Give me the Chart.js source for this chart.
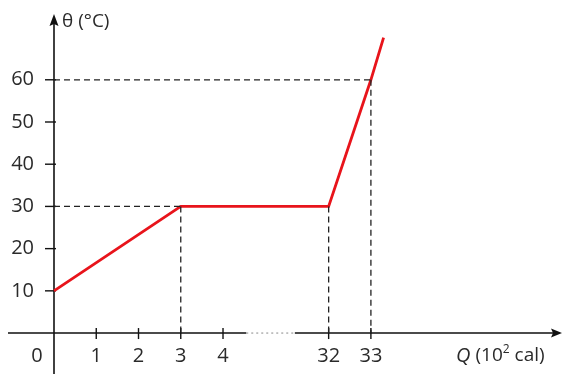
<!DOCTYPE html>
<html>
<head>
<meta charset="utf-8">
<script src="https://cdn.jsdelivr.net/npm/chart.js@4/dist/chart.umd.min.js"></script>
<style>
  html, body { margin: 0; padding: 0; background: #fff; }
  canvas { display: block; }
</style>
</head>
<body>
<canvas id="myChart" width="564" height="374"></canvas>
<script>
// heating curve: heat Q (10^2 cal) vs temperature θ (°C)
const heatQ = [0, 3, 32, 33, 33.3];
const temperature = [10, 30, 30, 60, 70];

const xTickLabels = [0, 1, 2, 3, 4, 32, 33];
const yTickLabels = [10, 20, 30, 40, 50, 60];

// dashed reading lines [Q, θ]
const guideV = [[3, 30], [32, 30], [33, 60]];
const guideH = [[3, 30], [33, 60]];

// the Q axis is broken between 4 and 32
function axisPos(q) {
  return q > 4 ? q - 25.5 : q;
}

const curve = heatQ.map((q, i) => ({ x: axisPos(q), y: temperature[i] }));

const guideSets = [];
guideV.forEach(([q, t]) => {
  guideSets.push([{ x: axisPos(q), y: t }, { x: axisPos(q), y: 0 }]);
});
guideH.forEach(([q, t]) => {
  guideSets.push([{ x: 0, y: t }, { x: axisPos(q), y: t }]);
});

const datasets = guideSets.map((pts) => ({
  data: pts,
  showLine: true,
  borderColor: "#222",
  borderWidth: 1.3,
  borderDash: [6, 4],
  pointRadius: 0,
}));

datasets.push({
  label: "θ",
  data: curve,
  showLine: true,
  borderColor: "#e8141b",
  borderWidth: 2.8,
  pointRadius: 0,
});

const axesPlugin = {
  id: "axesPlugin",
  beforeDatasetsDraw(chart) {
    const ctx = chart.ctx;
    const x = chart.scales.x;
    const y = chart.scales.y;
    const x0 = x.getPixelForValue(0);
    const y0 = y.getPixelForValue(0);

    ctx.save();
    ctx.strokeStyle = "#111";
    ctx.fillStyle = "#111";
    ctx.lineWidth = 1.6;

    // x axis (solid, dotted gap, solid)
    const gapA = x.getPixelForValue(4.55);
    const gapB = x.getPixelForValue(5.7);
    ctx.beginPath();
    ctx.moveTo(8, y0);
    ctx.lineTo(gapA, y0);
    ctx.moveTo(gapB, y0);
    ctx.lineTo(553, y0);
    ctx.stroke();
    ctx.save();
    ctx.lineWidth = 1;
    ctx.strokeStyle = "#888";
    ctx.setLineDash([2, 3]);
    ctx.beginPath();
    ctx.moveTo(gapA, y0);
    ctx.lineTo(gapB, y0);
    ctx.stroke();
    ctx.restore();
    ctx.beginPath();
    ctx.moveTo(562, y0);
    ctx.lineTo(551, y0 - 4.5);
    ctx.lineTo(553, y0);
    ctx.lineTo(551, y0 + 4.5);
    ctx.closePath();
    ctx.fill();

    // y axis
    ctx.beginPath();
    ctx.moveTo(x0, 374);
    ctx.lineTo(x0, 24);
    ctx.stroke();
    ctx.beginPath();
    ctx.moveTo(x0, 14);
    ctx.lineTo(x0 - 4.5, 26);
    ctx.lineTo(x0, 24);
    ctx.lineTo(x0 + 4.5, 26);
    ctx.closePath();
    ctx.fill();

    // tick marks
    ctx.lineWidth = 1.4;
    xTickLabels.forEach((q) => {
      if (q === 0) return;
      const px = x.getPixelForValue(axisPos(q));
      ctx.beginPath();
      ctx.moveTo(px, y0 - 5);
      ctx.lineTo(px, y0 + 6);
      ctx.stroke();
    });
    yTickLabels.forEach((t) => {
      const py = y.getPixelForValue(t);
      ctx.beginPath();
      ctx.moveTo(x0 - 9, py);
      ctx.lineTo(x0 + 2, py);
      ctx.stroke();
    });
    ctx.restore();
  },
  afterDraw(chart) {
    const ctx = chart.ctx;
    const x = chart.scales.x;
    const y = chart.scales.y;
    const x0 = x.getPixelForValue(0);
    const y0 = y.getPixelForValue(0);

    ctx.save();
    ctx.fillStyle = "#2a2a2a";
    ctx.font = '20px "Open Sans", sans-serif';
    ctx.textBaseline = "middle";

    ctx.textAlign = "right";
    yTickLabels.forEach((t) => {
      ctx.fillText(String(t), x0 - 20, y.getPixelForValue(t));
    });

    ctx.textAlign = "center";
    xTickLabels.forEach((q) => {
      const px = q === 0 ? x0 - 17 : x.getPixelForValue(axisPos(q));
      ctx.fillText(String(q), px, y0 + 23);
    });

    // axis titles
    ctx.textAlign = "left";
    ctx.font = '19px "Open Sans", sans-serif';
    ctx.fillText("θ (°C)", x0 + 8, 22);

    let tx = 456;
    const ty = y0 + 23;
    ctx.font = 'italic 20px "Open Sans", sans-serif';
    ctx.fillText("Q", tx, ty);
    tx += ctx.measureText("Q").width + 5;
    ctx.font = '19px "Open Sans", sans-serif';
    ctx.fillText("(10", tx, ty);
    tx += ctx.measureText("(10").width;
    ctx.font = '12px "Open Sans", sans-serif';
    ctx.fillText("2", tx, ty - 6);
    tx += ctx.measureText("2").width + 5;
    ctx.font = '19px "Open Sans", sans-serif';
    ctx.fillText("cal)", tx, ty);
    ctx.restore();
  },
};

const config = {
  type: "scatter",
  data: { datasets: datasets },
  options: {
    responsive: false,
    animation: false,
    layout: { padding: 0 },
    plugins: { legend: { display: false }, tooltip: { enabled: false } },
    scales: {
      x: { type: "linear", display: false, min: -1.278, max: 12.07 },
      y: { type: "linear", display: false, min: -9.7, max: 78.9 },
    },
  },
  plugins: [axesPlugin],
};

const myChart = new Chart(document.getElementById("myChart"), config);
</script>
</body>
</html>
